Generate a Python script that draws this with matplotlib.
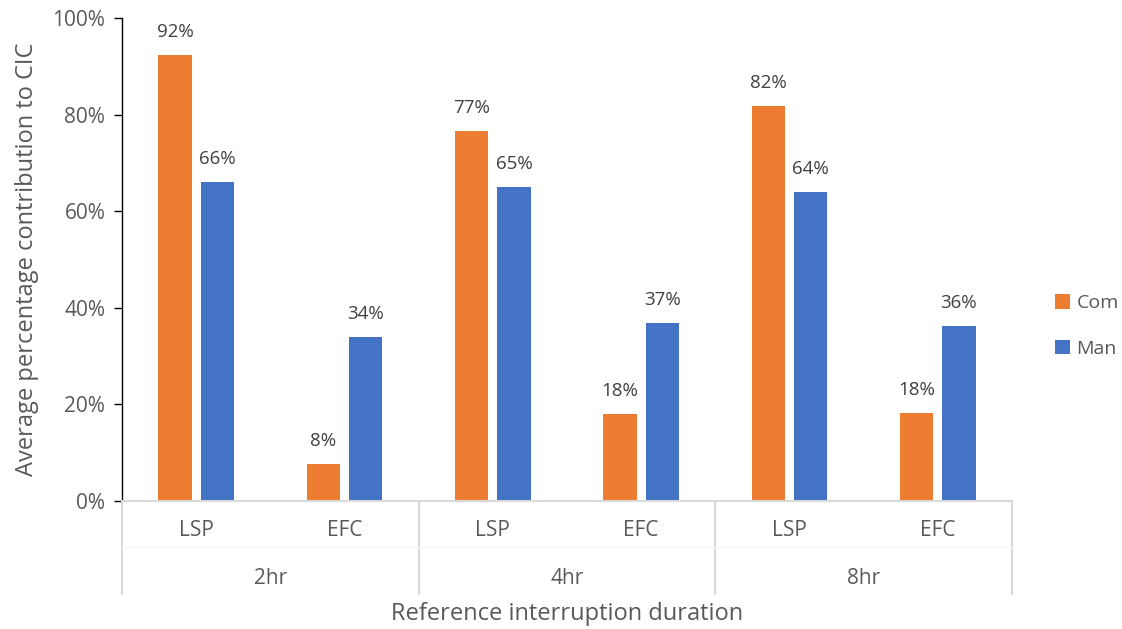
import matplotlib
matplotlib.use("Agg")
import matplotlib.pyplot as plt
from matplotlib.lines import Line2D
from matplotlib.patches import Patch
import numpy as np

plt.rcParams["font.family"] = ["Open Sans", "DejaVu Sans"]

durations = ["2hr", "4hr", "8hr"]
measures = ["LSP", "EFC"]
com_values = [92.4, 7.7, 76.6, 18.0, 81.8, 18.3]
man_values = [66.0, 34.0, 65.1, 36.8, 63.9, 36.2]
series_names = ["Com", "Man"]
colors = ["#ED7D31", "#4472C4"]

W, H = 1122, 629
fig = plt.figure(figsize=(W / 100, H / 100), dpi=100)
ax = fig.add_axes([122 / W, 1 - 501 / H, (1012 - 122) / W, (501 - 18) / H])

n = len(durations) * len(measures)
x = np.arange(n)
bw = 0.225
off = 0.142
label_color = "#404040"
tick_color = "#595959"

for vals, dx, c in zip([com_values, man_values], [-off, off], colors):
    bars = ax.bar(x + dx, vals, width=bw, color=c, zorder=2)
    for b, v in zip(bars, vals):
        ax.text(b.get_x() + b.get_width() / 2, v + 2.9, f"{round(v):.0f}%",
                ha="center", va="bottom", fontsize=13.5, color=label_color)

ax.set_xlim(-0.5, n - 0.5)
ax.set_ylim(0, 100)
ax.set_yticks(np.arange(0, 101, 20))
ax.set_yticklabels([f"{t}%" for t in range(0, 101, 20)], fontsize=15, color=tick_color)
ax.tick_params(axis="y", direction="out", length=6, width=1, color="black", pad=6)
ax.set_xticks([])
for s in ["top", "right"]:
    ax.spines[s].set_visible(False)
ax.spines["left"].set_color("black")
ax.spines["left"].set_linewidth(1)
ax.spines["bottom"].set_color("#D9D9D9")
ax.spines["bottom"].set_linewidth(1.5)

ax.set_ylabel("Average percentage contribution to CIC", fontsize=17, color=tick_color, labelpad=10)

# Two-level category axis drawn below the plot
def fy(py):
    return 1 - py / H

def fx(px):
    return px / W

left_px, right_px = 122, 1012
cat_w = (right_px - left_px) / n
for i in range(n):
    cx = left_px + cat_w * (i + 0.5)
    fig.text(fx(cx), fy(531), measures[i % 2], ha="center", va="center",
             fontsize=15, color=tick_color)
for g, d in enumerate(durations):
    cx = left_px + cat_w * (2 * g + 1)
    fig.text(fx(cx), fy(578), d, ha="center", va="center", fontsize=15, color=tick_color)
for g in range(len(durations) + 1):
    px = left_px + cat_w * 2 * g
    fig.add_artist(Line2D([fx(px), fx(px)], [fy(501), fy(594)], color="#D9D9D9", lw=1.5))
fig.add_artist(Line2D([fx(left_px), fx(right_px)], [fy(547), fy(547)], color="#F4F4F4", lw=1))

fig.text(fx((left_px + right_px) / 2 - 0), fy(614), "Reference interruption duration",
         ha="center", va="center", fontsize=17, color=tick_color)

handles = [Patch(facecolor=c, edgecolor="none") for c in colors]
fig.legend(handles, series_names, loc="center left", bbox_to_anchor=(fx(1055), fy(326)),
           frameon=False, fontsize=14, handlelength=0.75, handleheight=0.75,
           handletextpad=0.35, labelspacing=1.4, borderpad=0, borderaxespad=0,
           labelcolor=tick_color)

fig.savefig("out.png", dpi=100, facecolor="white")
